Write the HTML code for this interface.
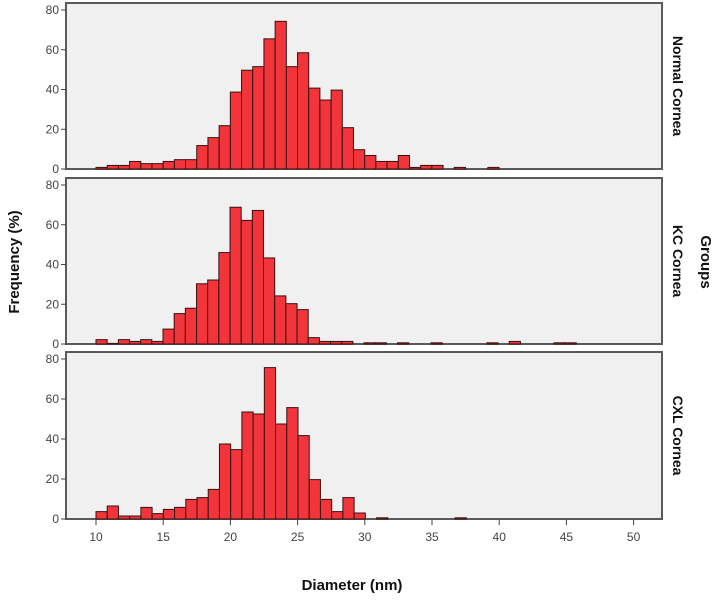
<!DOCTYPE html>
<html><head><meta charset="utf-8"><style>
body{margin:0;background:#fff;font-family:"Liberation Sans",Arial,sans-serif}
svg text{font-family:"Liberation Sans",Arial,sans-serif}
</style></head><body>
<svg id="chart" width="718" height="600" viewBox="0 0 718 600" xmlns="http://www.w3.org/2000/svg">
<text x="0" y="0" transform="translate(19,262) rotate(-90)" text-anchor="middle" font-size="15" font-weight="bold" fill="#111">Frequency (%)</text>
<text x="0" y="0" transform="translate(701,262) rotate(90)" text-anchor="middle" font-size="15" font-weight="bold" fill="#111">Groups</text>
<text x="352" y="590" text-anchor="middle" font-size="15" font-weight="bold" fill="#111">Diameter (nm)</text>
<g id="panels"></g>
</svg>
<script>
const panelNames = ["Normal Cornea","KC Cornea","CXL Cornea"];
const binStart = [10, 10, 10];
const binWidth = [0.833, 0.831, 0.835];
const normalCounts = [0.8,1.8,1.8,3.8,2.7,2.7,3.8,4.7,4.7,11.8,15.8,21.8,38.7,49.7,51.5,65.5,74.3,51.5,58.5,40.7,34.7,39.7,20.8,9.7,6.8,3.8,3.8,6.8,0.8,1.8,1.8,0,0.8,0,0,0.8];
const kcCounts = [2.2,0.3,2.2,1.3,2.2,1.3,7.5,15.3,18,30.3,32.2,46,68.8,62.2,67.2,43.3,24.2,20.3,17.3,3.2,1.3,1.3,1.3,0,0.6,0.6,0,0.6,0,0,0.6,0,0,0,0,0.6,0,1.3,0,0,0,0.6,0.6];
const cxlCounts = [3.7,6.5,1.5,1.5,5.8,2.7,4.8,5.8,9.8,10.7,14.8,37.5,34.7,53.5,52.5,75.7,47.5,55.7,41.7,19.7,9.8,3.7,10.7,3,0,0.6,0,0,0,0,0,0,0.6];
const seriesList = [normalCounts, kcCounts, cxlCounts];
const yTicks = [0,20,40,60,80];
const xTicks = [10,15,20,25,30,35,40,45,50];

const NS="http://www.w3.org/2000/svg";
const left=66, right=662;
const panelTop=[3,178,352], panelBottom=[169,344,519];
const xs = v => 96 + (v-10)*13.44;
const g = document.getElementById('panels');
function mk(tag, attrs, parent){const e=document.createElementNS(NS,tag);for(const k in attrs)e.setAttribute(k,attrs[k]);(parent||g).appendChild(e);return e;}

seriesList.forEach((counts,p)=>{
  const top=panelTop[p], bot=panelBottom[p];
  const ys = v => bot - v*((bot-top-7)/80);
  const pg = mk('g',{});
  
  
  const bg = mk('rect',{x:left,y:top,width:right-left,height:bot-top,fill:'#f0f0f0',stroke:'#5a5a5a','stroke-width':2},pg);
  
  
  counts.forEach((c,i)=>{
    if(c<=0) return;
    const x0 = xs(binStart[p]+i*binWidth[p]), x1 = xs(binStart[p]+(i+1)*binWidth[p]);
    const r = mk('rect',{x:x0,y:ys(c),width:x1-x0,height:bot-ys(c),fill:'#f2353b',stroke:'#3a1010','stroke-width':1},pg);
    
    
  });
  yTicks.forEach(t=>{
    const y=ys(t);
    mk('line',{x1:left-5,x2:left,y1:y,y2:y,stroke:'#444','stroke-width':1},pg);
    const tx = mk('text',{x:left-7,y:y+4,'text-anchor':'end','font-size':12,fill:'#444'},pg);
    tx.textContent=t;
    
    
  });
  const lab = mk('text',{x:0,y:0,transform:`translate(673,${(top+bot)/2}) rotate(90)`,'text-anchor':'middle','font-size':14,'font-weight':'bold',fill:'#111'},pg);
  lab.textContent=panelNames[p];
  
  
});
xTicks.forEach(t=>{
  const x=xs(t);
  mk('line',{x1:x,x2:x,y1:520,y2:525,stroke:'#444','stroke-width':1});
  const tx = mk('text',{x:x,y:541,'text-anchor':'middle','font-size':12,fill:'#444'});
  tx.textContent=t;
  
  
});
</script>
</body></html>
